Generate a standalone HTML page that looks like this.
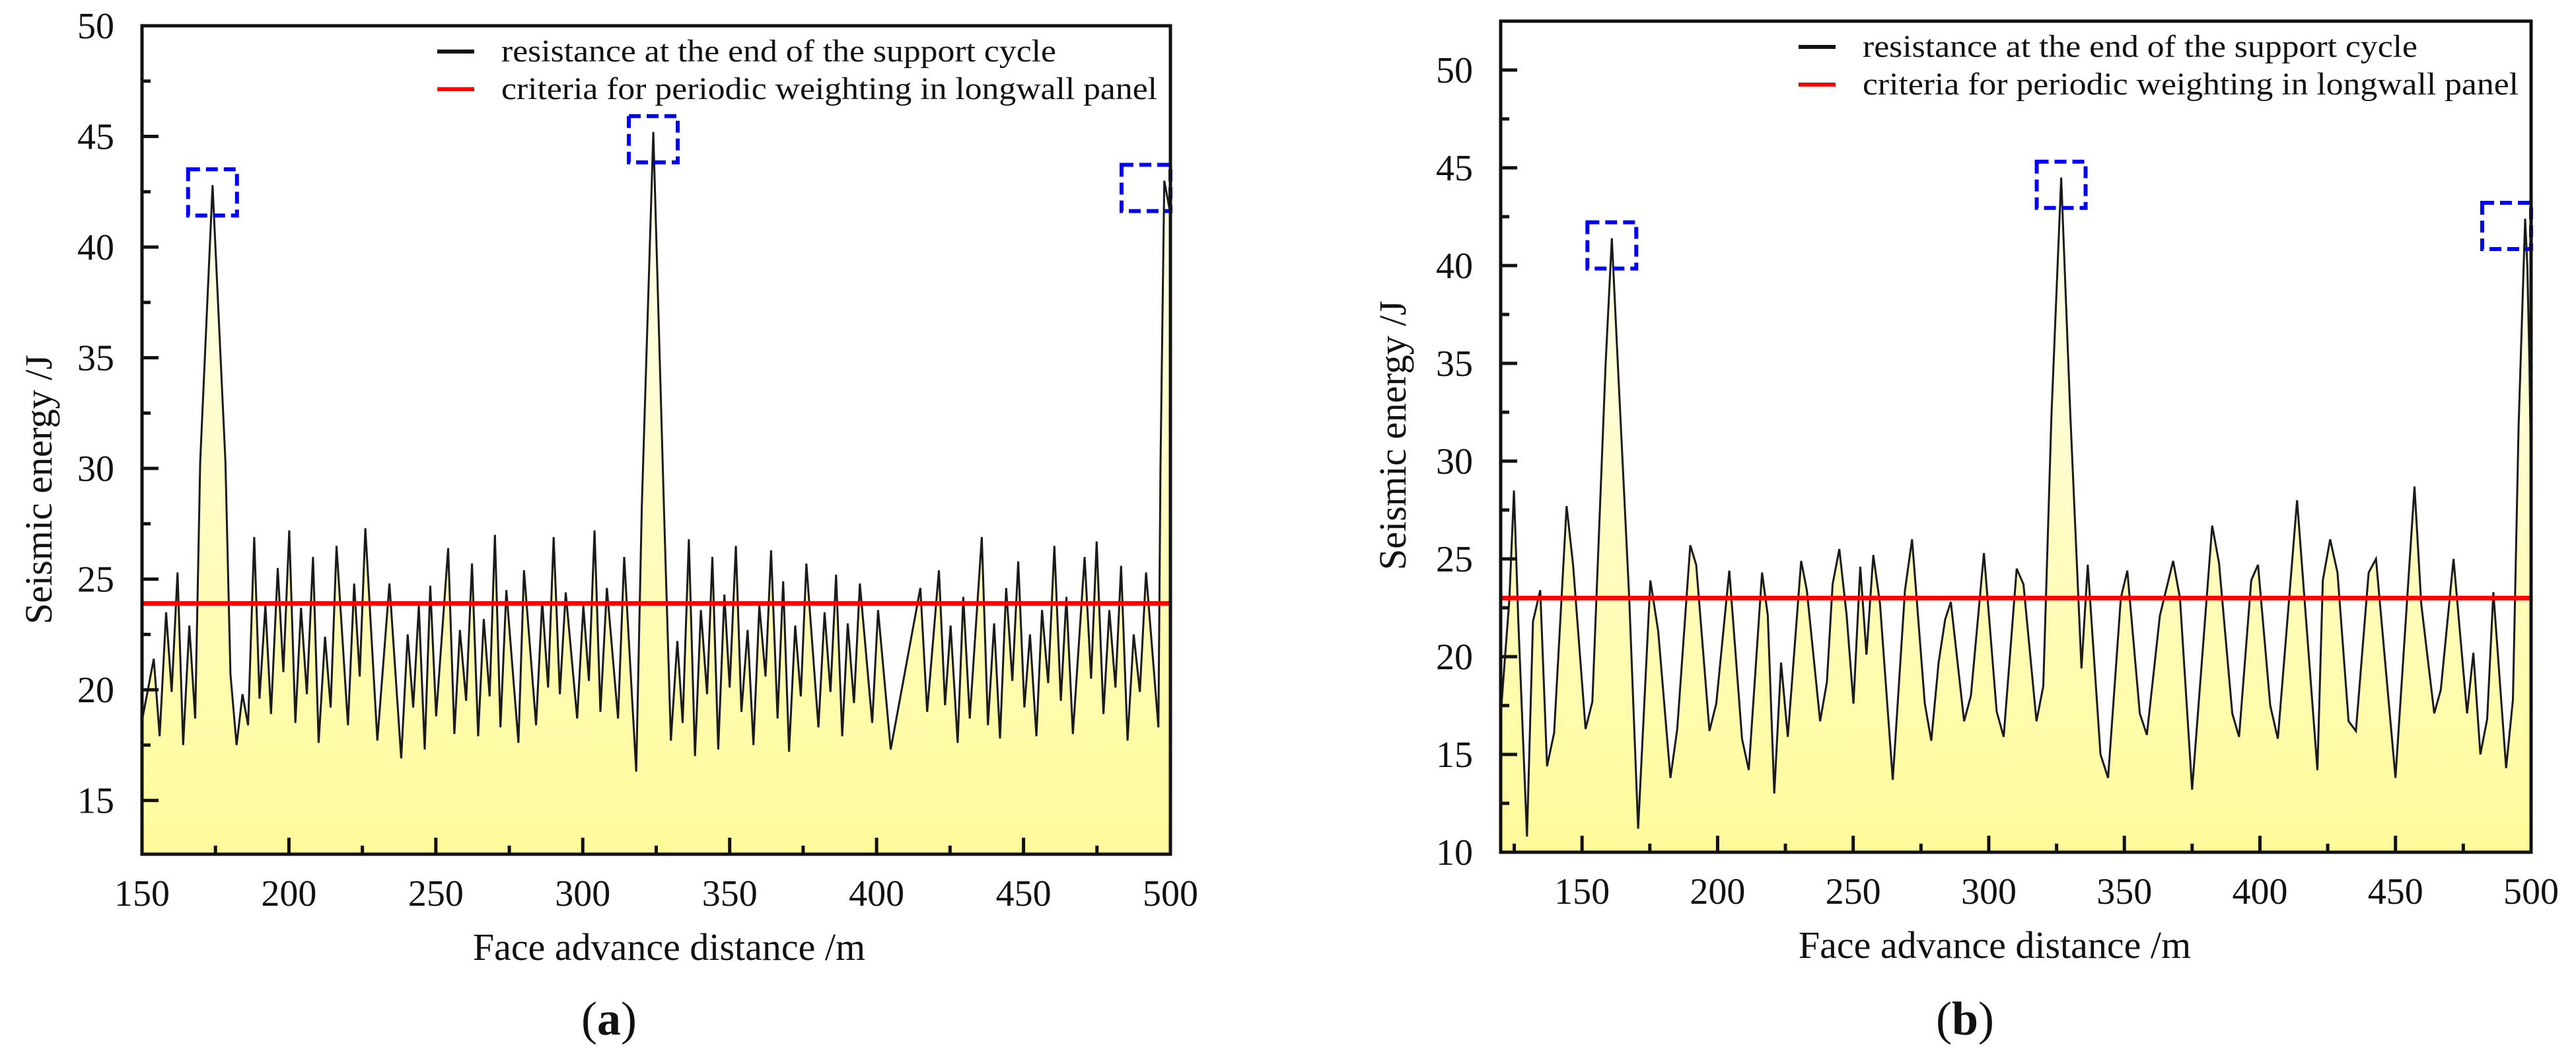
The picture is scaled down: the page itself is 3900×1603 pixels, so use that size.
<!DOCTYPE html>
<html><head><meta charset="utf-8"><style>
html,body{margin:0;padding:0;background:#fff;}
svg{display:block;font-family:"Liberation Serif",serif;}
</style></head><body>
<svg id="chart" width="3900" height="1603" viewBox="0 0 3900 1603" xmlns="http://www.w3.org/2000/svg">
<defs>
<linearGradient id="fillGrad" x1="0" y1="0" x2="0" y2="1">
<stop offset="0" stop-color="#fffff4"/><stop offset="0.55" stop-color="#fffcc0"/><stop offset="1" stop-color="#fffb9a"/>
</linearGradient>
</defs>
</svg>
<script>
// ---- Panel (a) data ----
const distA = [150,154,156,158.2,160.1,162.1,164,166.1,168.1,169.8,174,178.4,180.1,182.2,184.2,186.1,188.2,190,192,193.9,196.2,198.1,200.1,202.2,204.1,206.1,208.2,210.1,212.3,214.2,216.2,220.1,222.2,224.1,226,230.1,234.2,238.2,240.4,242.3,244.2,246.2,248.1,250.1,254.2,256.3,258.2,260.3,262.3,264.4,266.3,268.3,270.1,272,274,278.1,280,284.1,286.2,288.2,290.1,292.2,294.2,298.1,300.2,302.1,304,306,308.2,312,314.1,318.2,320.1,324,327.7,330,332.2,334,336.1,338.2,340.2,342.3,344.1,346.1,348.2,350,352.1,354,356.1,358.1,360.1,362.2,364.1,366.3,368.2,370.2,372.3,374.2,376.1,380.2,382.3,384.3,386.2,388.3,390.2,392.3,394.3,398.5,400.5,404.8,414.9,417.2,421.2,423.3,425.2,427.6,429.5,431.7,435.8,437.9,440,442,444.1,446.2,448.2,450.3,452.2,454.4,456.3,458.4,460.5,462.7,464.6,466.8,470.8,473,474.9,477.2,479.2,481.3,483.2,485.4,487.5,489.6,491.7,495.9,496.6,497.9,500];
const energyA = [18.6,21.4,17.9,23.5,19.9,25.3,17.5,22.9,18.7,30.3,42.8,30.3,20.7,17.5,19.8,18.4,26.9,19.6,23.8,18.9,25.5,20.8,27.2,18.5,23.7,19.8,26,17.6,22.4,19.2,26.5,18.4,24.8,20.6,27.3,17.7,24.8,16.9,22.5,19.2,23.8,17.3,24.7,18.8,26.4,18.0,22.7,19.5,25.7,17.9,23.2,19.7,27.0,18.3,24.5,17.6,25.4,18.4,24.0,20.1,26.9,19.8,24.4,18.7,23.8,20.4,27.2,19.0,24.6,18.7,26.0,16.3,28.3,45.2,27.9,17.7,22.2,18.5,26.8,17.0,23.6,19.8,26.0,17.3,24.3,20.1,26.5,19.0,22.7,17.5,23.8,20.6,26.3,18.7,24.9,17.2,22.9,19.7,25.7,18.3,23.5,19.9,25.2,17.9,23.0,19.4,24.8,18.5,23.6,17.3,24.6,19.0,25.4,19.3,22.9,17.6,24.2,18.7,26.9,18.4,23.0,17.8,24.6,20.4,25.8,19.2,22.5,17.9,23.6,20.3,26.5,19.5,24.2,18.0,26.0,20.5,26.7,18.9,23.6,20.1,25.6,17.7,22.5,19.9,25.3,18.3,30,43.0,41.5];
const criteriaA = 23.9;
const xTicksA = [150,200,250,300,350,400,450,500];
const yTicksA = [15,20,25,30,35,40,45,50];
const peaksA = [[174,42.8],[324,45.2],[498.3,43.0]];

// ---- Panel (b) data ----
const distB = [120,121.6,123.2,124.9,126.5,129.7,131.9,134.6,137.1,139.7,144.3,146.7,151.3,153.8,158.7,161,163.2,167.4,170.7,175.2,178.1,182.6,185.1,189.9,192.1,197,199.5,204.3,209,211.5,216.4,218.5,220.9,223.4,225.9,230.8,232.9,237.8,240.3,242.4,244.9,247.6,250.1,252.6,254.9,257.4,259.9,264.6,269.1,271.7,276.4,278.8,281.5,283.9,286,290.9,293.4,298.2,302.9,305.5,310.3,312.8,317.6,320.1,323.1,326.7,330.1,334.2,336.5,341.2,344,348.7,351.1,355.7,358.3,363.1,368,370.5,375,382.4,384.9,389.8,392.3,396.8,399.3,403.8,406.6,413.7,421.2,423.2,425.9,428.6,432.7,435.4,440.1,442.8,450,457,459.5,464.3,466.7,471.4,476.4,478.7,481.3,483.8,486.1,490.8,493.3,495.4,497.8,498.6,499.4,500];
const energyB = [17,20.0,22.9,28.5,21.8,10.8,21.8,23.4,14.4,16.1,27.7,24.7,16.3,17.7,35,41.4,35,23.0,11.2,23.9,21.3,13.8,16.3,25.7,24.7,16.2,17.6,24.4,15.8,14.2,24.3,22.1,13.0,19.7,15.9,24.9,23.4,16.7,18.7,23.7,25.5,22.1,17.6,24.6,20.1,25.2,22.7,13.7,23.4,26.0,17.6,15.7,19.7,21.9,22.8,16.7,18.0,25.3,17.2,15.9,24.5,23.7,16.7,18.5,32.3,44.5,32.3,19.4,24.7,15.0,13.8,23.0,24.4,17.1,16.0,22.1,24.9,23.0,13.2,26.7,24.8,17.1,15.9,23.9,24.7,17.5,15.8,28.0,14.2,23.9,26.0,24.3,16.7,16.2,24.3,25.0,13.8,28.7,22.7,17.1,18.3,25.0,17.1,20.2,15.0,16.8,23.3,14.3,17.8,31.8,42.4,40,35,29];
const criteriaB = 23.0;
const xTicksB = [150,200,250,300,350,400,450,500];
const yTicksB = [10,15,20,25,30,35,40,45,50];
const peaksB = [[161,41.4],[326.7,44.5],[498.2,42.4]];

const NS = "http://www.w3.org/2000/svg";
const svg = document.getElementById('chart');
function mk(tag, attrs, parent){const e=document.createElementNS(NS,tag);for(const k in attrs)e.setAttribute(k,attrs[k]);(parent||svg).appendChild(e);return e;}

function drawPanel(cfg){
  const g = mk('g',{});
  
  
  const X = d => cfg.L + (d - cfg.xmin) / (cfg.xmax - cfg.xmin) * (cfg.R - cfg.L);
  const Y = v => cfg.B - (v - cfg.ymin) / (cfg.ymax - cfg.ymin) * (cfg.B - cfg.T);
  let pts = cfg.dist.map((d,i)=>X(d).toFixed(1)+','+Y(cfg.energy[i]).toFixed(1));
  const area = mk('polygon',{points: X(cfg.dist[0]).toFixed(1)+','+cfg.B+' '+pts.join(' ')+' '+X(cfg.dist[cfg.dist.length-1]).toFixed(1)+','+cfg.B, fill:'url(#fillGrad)'}, g);
  
  
  const line = mk('polyline',{points: pts.join(' '), fill:'none', stroke:'#1a1a1a','stroke-width':3,'stroke-linejoin':'miter'}, g);
  
  
  const cl = mk('line',{x1:cfg.L, x2:cfg.R, y1:Y(cfg.crit), y2:Y(cfg.crit), stroke:'#ff0000','stroke-width':7}, g);
  
  
  cfg.peaks.forEach(p=>{
    const cx = Math.min(X(p[0]), cfg.R-37), cy = Y(p[1]);
    const r = mk('rect',{x:cx-37, y:cy-24, width:74, height:70, fill:'none', stroke:'#0000ff','stroke-width':6,'stroke-dasharray':'18,9'}, g);
    
    
  });
  const fr = mk('rect',{x:cfg.L, y:cfg.T, width:cfg.R-cfg.L, height:cfg.B-cfg.T, fill:'none', stroke:'#111','stroke-width':5}, g);
  
  
  for (let d = cfg.xminorStart; d <= cfg.xmax + 0.01; d += 25) {
    const major = cfg.xTicks.includes(d);
    const t = mk('line',{x1:X(d),x2:X(d),y1:cfg.B,y2:cfg.B-(major?25:13),stroke:'#111','stroke-width':5}, g);
    
    
  }
  cfg.xTicks.forEach(d=>{
    const t = mk('text',{x:X(d), y:cfg.B+78, 'text-anchor':'middle','font-size':56, fill:'#111'}, g);
    t.textContent = d;
    
    
  });
  for (let v = cfg.yTicks[0] - 2.5; v <= cfg.ymax + 0.01; v += 2.5) {
    if (v < cfg.ymin) continue;
    const major = cfg.yTicks.includes(v);
    const t = mk('line',{x1:cfg.L,x2:cfg.L+(major?25:13),y1:Y(v),y2:Y(v),stroke:'#111','stroke-width':5}, g);
    
    
  }
  cfg.yTicks.forEach(v=>{
    const t = mk('text',{x:cfg.L-42, y:Y(v)+19, 'text-anchor':'end','font-size':56, fill:'#111'}, g);
    t.textContent = v;
    
    
  });
  const xt = mk('text',{x:cfg.xTitleX, y:cfg.B+160,'text-anchor':'middle','font-size':58, fill:'#111'}, g);
  xt.textContent = 'Face advance distance /m';
  
  
  const yt = mk('text',{x:0, y:0,'text-anchor':'middle','font-size':58, fill:'#111', transform:'translate('+cfg.yTitleX+','+cfg.yTitleY+') rotate(-90)'}, g);
  yt.textContent = 'Seismic energy /J';
  
  
  const lg = mk('g',{}, g);
  
  
  const l1 = mk('line',{x1:cfg.legX, x2:cfg.legX+56, y1:cfg.legY, y2:cfg.legY, stroke:'#111','stroke-width':6}, lg);
  
  
  const t1 = mk('text',{x:cfg.legX+97, y:cfg.legY+15,'font-size':48, fill:'#111', textLength:840, lengthAdjust:'spacingAndGlyphs'}, lg);
  t1.textContent = 'resistance at the end of the support cycle';
  
  
  const l2 = mk('line',{x1:cfg.legX, x2:cfg.legX+56, y1:cfg.legY+57, y2:cfg.legY+57, stroke:'#ff0000','stroke-width':6}, lg);
  
  
  const t2 = mk('text',{x:cfg.legX+97, y:cfg.legY+72,'font-size':48, fill:'#111', textLength:993, lengthAdjust:'spacingAndGlyphs'}, lg);
  t2.textContent = 'criteria for periodic weighting in longwall panel';
  
  
  const pl = mk('text',{x:cfg.labelX, y:1566,'text-anchor':'middle','font-size':72, fill:'#111'}, g);
  pl.innerHTML = '(<tspan font-weight="bold">'+cfg.letter+'</tspan>)';
  
  
}

drawPanel({name:'panel-a', L:215, R:1772, T:39, B:1293, xmin:150, xmax:500, ymin:12.57, ymax:50,
  dist:distA, energy:energyA, crit:criteriaA, peaks:peaksA, xTicks:xTicksA, yTicks:yTicksA, xminorStart:150,
  xTitleX:1013, yTitleX:78, yTitleY:741, legX:662, legY:78, labelX:922, letter:'a'});
drawPanel({name:'panel-b', L:2272, R:3832, T:32, B:1290, xmin:120, xmax:500, ymin:10, ymax:52.5,
  dist:distB, energy:energyB, crit:criteriaB, peaks:peaksB, xTicks:xTicksB, yTicks:yTicksB, xminorStart:125,
  xTitleX:3020, yTitleX:2128, yTitleY:659, legX:2723, legY:71, labelX:2975, letter:'b'});
</script>
</body></html>
